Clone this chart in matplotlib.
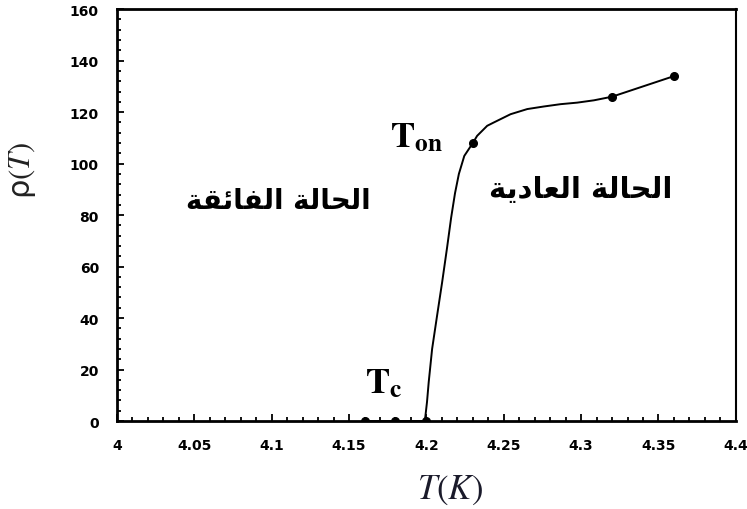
import matplotlib
matplotlib.use("Agg")
import matplotlib.pyplot as plt
from matplotlib.ticker import MultipleLocator, FixedLocator

# measured points (T in K, rho)
t_pts = [4.16, 4.18, 4.20, 4.23, 4.32, 4.36]
rho_pts = [0, 0, 0, 108, 126, 134]

# traced resistance curve through the transition
t_curve = [4.160, 4.199, 4.2004, 4.2015, 4.2037, 4.2069, 4.2102, 4.2134,
           4.2160, 4.2185, 4.2210, 4.2245, 4.230, 4.2328, 4.2393, 4.2436,
           4.2544, 4.2652, 4.2759, 4.2867, 4.2975, 4.3083, 4.320, 4.360]
rho_curve = [0, 0, 7.4, 15.1, 28.0, 40.9, 54.0, 67.5,
             79.0, 88.5, 96.0, 103.0, 108, 110.8, 114.7, 116.0,
             119.2, 121.2, 122.2, 123.1, 123.7, 124.6, 126, 134]

x_ticks = [4.0, 4.05, 4.1, 4.15, 4.2, 4.25, 4.3, 4.35, 4.4]
x_labels = ["4", "4.05", "4.1", "4.15", "4.2", "4.25", "4.3", "4.35", "4.4"]
y_ticks = [0, 20, 40, 60, 80, 100, 120, 140, 160]

label_super = "الحالة الفائقة"
label_normal = "الحالة العادية"

# presentation forms: isolated, final, initial, medial
FORMS = {
    "ا": (0xFE8D, 0xFE8E), "د": (0xFEA9, 0xFEAA), "ة": (0xFE93, 0xFE94),
    "ل": (0xFEDD, 0xFEDE, 0xFEDF, 0xFEE0), "ح": (0xFEA1, 0xFEA2, 0xFEA3, 0xFEA4),
    "ف": (0xFED1, 0xFED2, 0xFED3, 0xFED4), "ئ": (0xFE89, 0xFE8A, 0xFE8B, 0xFE8C),
    "ق": (0xFED5, 0xFED6, 0xFED7, 0xFED8), "ع": (0xFEC9, 0xFECA, 0xFECB, 0xFECC),
    "ي": (0xFEF1, 0xFEF2, 0xFEF3, 0xFEF4),
}


def shape(text):
    words = []
    for w in text.split(" "):
        out = []
        for i, ch in enumerate(w):
            f = FORMS[ch]
            prev = i > 0 and len(FORMS[w[i - 1]]) == 4
            nxt = i < len(w) - 1 and len(f) == 4
            if prev and nxt:
                c = f[3]
            elif nxt:
                c = f[2]
            elif prev:
                c = f[1]
            else:
                c = f[0]
            out.append(chr(c))
        words.append("".join(out)[::-1])
    return " ".join(words[::-1])


plt.rcParams["mathtext.fontset"] = "stix"

fig = plt.figure(figsize=(7.47, 5.10), dpi=100)
ax = fig.add_axes([0.1566, 0.1725, 0.8284, 0.8075])

ax.plot(t_curve, rho_curve, color="black", lw=1.4, solid_joinstyle="round")
ax.plot(t_pts, rho_pts, "o", color="black", ms=5.5)

ax.set_xlim(4.0, 4.4)
ax.set_ylim(0, 160)
ax.xaxis.set_major_locator(FixedLocator(x_ticks))
ax.set_xticklabels(x_labels)
ax.yaxis.set_major_locator(FixedLocator(y_ticks))
ax.xaxis.set_minor_locator(MultipleLocator(0.01))
ax.yaxis.set_minor_locator(MultipleLocator(4))
ax.tick_params(which="both", direction="in", top=False, right=False,
               width=1.3, color="black")
ax.tick_params(which="major", length=5)
ax.tick_params(which="minor", length=3)
ax.tick_params(axis="x", pad=12)
ax.tick_params(axis="y", pad=13)
for lab in ax.get_xticklabels() + ax.get_yticklabels():
    lab.set_fontfamily("DejaVu Sans")
    lab.set_fontweight("bold")
    lab.set_fontsize(10)

for side in ["left", "bottom", "top"]:
    ax.spines[side].set_linewidth(2.0)
ax.spines["right"].set_linewidth(1.5)

ax.text(4.211, 110.5, r"$\mathbf{T}_{\mathbf{on}}$", fontsize=26,
        ha="right", va="center", color="black")
ax.text(4.160, 15, r"$\mathbf{T}_{\mathbf{c}}$", fontsize=26,
        ha="left", va="center", color="black")

ax.text(4.104, 86, shape(label_super), fontsize=20, fontweight="bold",
        family="DejaVu Sans", ha="center", va="center")
ax.text(4.300, 90, shape(label_normal), fontsize=21, fontweight="bold",
        family="DejaVu Sans", ha="center", va="center")

fig.text(0.030, 0.665, r"ρ$(T)$", rotation=90, fontsize=22,
         ha="center", va="center", color="#222222")
fig.text(0.602, 0.039, r"$T(K)$", fontsize=25, ha="center", va="center",
         color="#1a1a2a")

fig.savefig("out.png", dpi=100)
